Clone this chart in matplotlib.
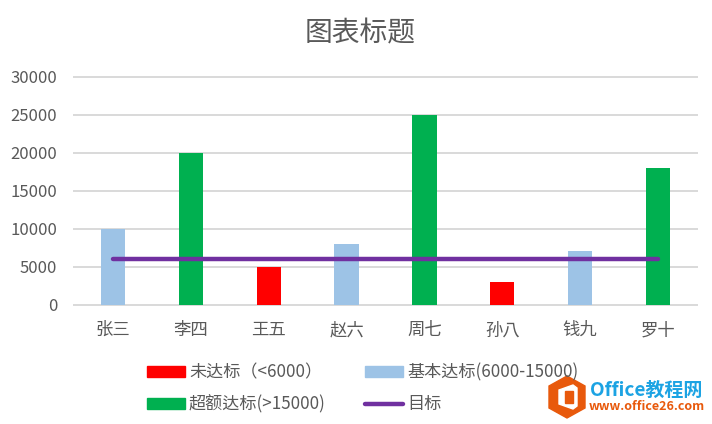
import matplotlib
matplotlib.use("Agg")
import matplotlib.pyplot as plt
from matplotlib.patches import Polygon, Rectangle
from matplotlib.lines import Line2D

plt.rcParams["font.family"] = ["Noto Sans CJK JP", "DejaVu Sans"]

names = ["张三", "李四", "王五", "赵六", "周七", "孙八", "钱九", "罗十"]
below = [0, 0, 5000, 0, 0, 3000, 0, 0]
basic = [10000, 0, 0, 8000, 0, 0, 7000, 0]
above = [0, 20000, 0, 0, 25000, 0, 0, 18000]
target = [6000, 6000, 6000, 6000, 6000, 6000, 6000, 6000]
yticks = [0, 5000, 10000, 15000, 20000, 25000, 30000]
labels = ["未达标（<6000）", "基本达标(6000-15000)", "超额达标(>15000)", "目标"]

RED, BLUE, GREEN, PURPLE = "#FF0000", "#9DC3E6", "#00B050", "#7030A0"
TXT = "#595959"
W, H = 712, 424

fig = plt.figure(figsize=(W / 100, H / 100), dpi=100, facecolor="white")
L, R, T, B = 74, 697, 76.5, 304.5
ax = fig.add_axes([L / W, 1 - B / H, (R - L) / W, (B - T) / H])

x = list(range(len(names)))
bw = 0.31
ax.bar(x, below, bw, color=RED, zorder=3)
ax.bar(x, basic, bw, color=BLUE, zorder=3)
ax.bar(x, above, bw, color=GREEN, zorder=3)
ax.plot(x, target, color=PURPLE, lw=3.2, solid_capstyle="round", zorder=4)

ax.set_xlim(-0.5, len(names) - 0.5)
ax.set_ylim(0, 30000)
ax.set_yticks(yticks)
ax.set_xticks(x, names)
ax.grid(axis="y", color="#D9D9D9", lw=1.4, zorder=0, clip_on=False)
ax.set_axisbelow(True)
for s in ax.spines.values():
    s.set_visible(False)
ax.tick_params(axis="both", length=0, labelcolor=TXT)
ax.tick_params(axis="y", labelsize=12, pad=12)
ax.tick_params(axis="x", labelsize=12.5, pad=12)

fig.text(360 / W, 1 - 33 / H, "图表标题", fontsize=20, color=TXT, ha="center", va="center")

# legend
handles = [
    Rectangle((0, 0), 1, 1, color=RED),
    Rectangle((0, 0), 1, 1, color=GREEN),
    Rectangle((0, 0), 1, 1, color=BLUE),
    Line2D([0], [0], color=PURPLE, lw=3.2, solid_capstyle="round"),
]
order = [labels[0], labels[2], labels[1], labels[3]]
fig.legend(handles, order, ncol=2, frameon=False, fontsize=12.3, labelcolor=TXT,
           loc="upper left", bbox_to_anchor=(142 / W, 1 - 358 / H), borderaxespad=0,
           borderpad=0.3, handlelength=2.2, handleheight=0.6, handletextpad=0.25,
           columnspacing=2.32, labelspacing=0.82)

# watermark
lax = fig.add_axes([0, 0, 1, 1], facecolor="none")
lax.set_xlim(0, W)
lax.set_ylim(H, 0)
lax.axis("off")
lax.add_patch(Polygon([(567, 376), (585, 386), (585, 408), (567, 418), (549, 408), (549, 386)],
                      closed=True, color="#E8590C"))
lax.add_patch(Polygon([(559, 390), (573, 385), (577, 388), (577, 406), (573, 409), (559, 404)],
                      closed=True, color="white"))
lax.add_patch(Rectangle((565, 391), 8, 12, color="#E8590C"))
lax.text(590, 390, "Office教程网", fontsize=13.7, fontweight="bold", color="#1CA3E3", va="center")
lax.text(589, 407, "www.office26.com", fontsize=9, fontweight="bold", color="#E8590C", va="center")

fig.savefig("out.png", dpi=100, facecolor="white")
